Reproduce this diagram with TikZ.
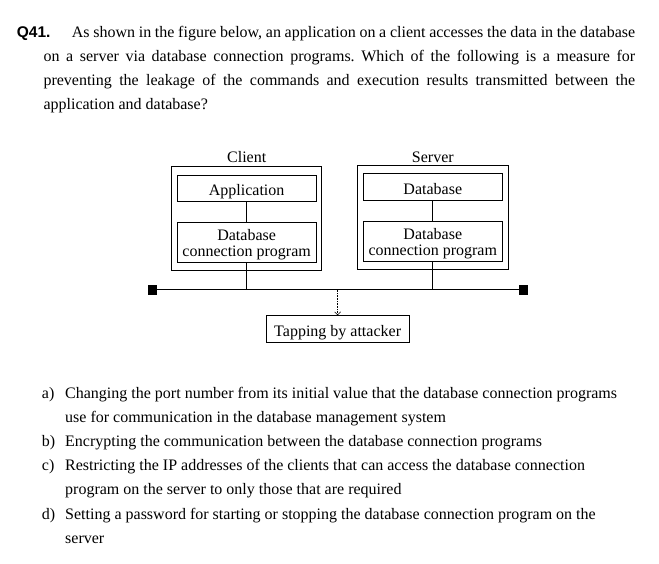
\documentclass[tikz,border=0pt]{standalone}
\usepackage{fontspec}
\setmainfont{Liberation Serif}
\newfontfamily\qsans{Liberation Sans}
\usetikzlibrary{arrows.meta}
\frenchspacing
\begin{document}
\begin{tikzpicture}[x=1pt,y=-1pt,
  txt/.style={inner sep=0pt, anchor=base west, font=\fontsize{16}{24}\selectfont},
  lbl/.style={inner sep=0pt, anchor=base, font=\fontsize{16}{16}\selectfont},
  frame/.style={draw, line width=0.8pt, inner sep=0pt},
  onebox/.style={draw, line width=0.8pt, inner sep=0pt, text height=16pt, text depth=2pt,
    font=\fontsize{16}{16}\selectfont},
  twobox/.style={draw, line width=0.8pt, inner sep=0pt, align=center,
    font=\fontsize{16}{16}\selectfont},
  sq/.style={fill=black, inner sep=0pt, minimum width=9pt, minimum height=10pt},
  wire/.style={line width=0.8pt}
]
\useasboundingbox (0,0) rectangle (659,563);

% question
\node[txt, font=\qsans\bfseries\fontsize{15.5}{24}\selectfont] (q) at (16.7,37) {Q41.};
\node[txt] (q1) at (71.7,37) {\makebox[563.3pt][s]{As shown in the figure below, an application on a client accesses the data in the database}};
\node[txt] (q2) at (43.3,61) {\makebox[591.7pt][s]{on a server via database connection programs. Which of the following is a measure for}};
\node[txt] (q3) at (43.3,85) {\makebox[591.7pt][s]{preventing the leakage of the commands and execution results transmitted between the}};
\node[txt] (q4) at (43.3,109) {application and database?};

% diagram
\node[lbl] (clab) at (246.7,162.7) {Client};
\node[lbl] (slab) at (432.8,162.7) {Server};

\node[frame, minimum width=150pt, minimum height=103.3pt] (cbox) at (246.7,218.35) {};
\node[frame, minimum width=151pt, minimum height=103.6pt] (sbox) at (432.8,217.5) {};

\node[onebox, minimum width=138.7pt, minimum height=26.7pt] (app) at (246.65,188.35) {Application};
\node[twobox, minimum width=138.7pt, minimum height=40pt] (ccon) at (246.65,242.7) {\rule{0pt}{15.5pt}Database\\connection program};
\node[onebox, minimum width=139pt, minimum height=27.4pt] (db) at (432.8,187) {Database};
\node[twobox, minimum width=139pt, minimum height=40pt] (scon) at (432.8,241.7) {\rule{0pt}{15.5pt}Database\\connection program};

\node[sq] (sqL) at (152.8,289.8) {};
\node[sq] (sqR) at (523.8,289.8) {};
\draw[wire] (sqL.center) -- (sqR.center);

\draw[wire] (app) -- (ccon);
\draw[wire] (db) -- (scon);
\draw[wire] (ccon.south) -- (ccon.south |- sqL.center);
\draw[wire] (scon.south) -- (scon.south |- sqL.center);

\node[onebox, minimum width=143.3pt, minimum height=26.6pt] (tap) at (337.65,329) {Tapping by attacker};
\draw[line width=0.6pt, densely dotted, -{Straight Barb[length=3pt,width=6pt]}] (tap.north |- sqL.center) -- (tap.north);

% options
\node[txt] (la) at (41.7,398.3) {a)};
\node[txt] (oa1) at (65,398.3) {Changing the port number from its initial value that the database connection programs};
\node[txt] (oa2) at (65,422.5) {use for communication in the database management system};
\node[txt] (lb) at (41.7,446.7) {b)};
\node[txt] (ob) at (65,446.7) {Encrypting the communication between the database connection programs};
\node[txt] (lc) at (41.7,470.7) {c)};
\node[txt] (oc1) at (65,470.7) {Restricting the IP addresses of the clients that can access the database connection};
\node[txt] (oc2) at (65,494.8) {program on the server to only those that are required};
\node[txt] (ld) at (41.7,519) {d)};
\node[txt] (od1) at (65,519) {Setting a password for starting or stopping the database connection program on the};
\node[txt] (od2) at (65,543.5) {server};
\end{tikzpicture}
\end{document}
